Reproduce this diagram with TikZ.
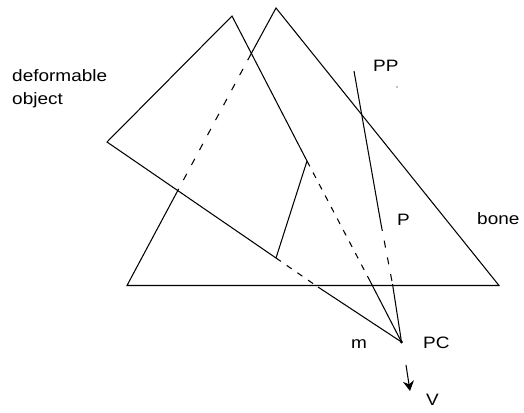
\documentclass[tikz,border=0pt]{standalone}
\usepackage{fontspec}
\setmainfont{Liberation Sans}
\newfontfamily\labfont[FakeStretch=1.15]{Liberation Sans}
\usetikzlibrary{arrows.meta}
\tikzset{
  edge/.style={line width=1.05pt,black},
  dash1/.style={edge,dash pattern=on 6pt off 7pt},
  dash2/.style={edge,dash pattern=on 7pt off 10pt},
  lab/.style={font=\labfont\fontsize{16.5}{20}\selectfont,inner sep=0pt,text=black}
}
\begin{document}
\begin{tikzpicture}[x=1pt,y=-1pt]
\useasboundingbox[fill=white] (0,0) rectangle (524,412);
% deformable object vertices
\coordinate (A) at (232,16);
\coordinate (B) at (107,142);
\coordinate (C) at (276,258);
\coordinate (D) at (307,161);
% bone vertices
\coordinate (T) at (276,8);
\coordinate (L) at (127,285.5);
\coordinate (R) at (499,285.5);
% view rays
\coordinate (PC) at (401.5,342);
\coordinate (PPtop) at (354,71);
\coordinate (X1) at (251,54);
\coordinate (X2) at (177,192);
\coordinate (Cb) at (318,287);
\coordinate (Db) at (370,281);
\coordinate (Pa) at (381,224);
\coordinate (Pb) at (392.5,284);
\coordinate (Va) at (406,365);
\coordinate (Vb) at (410,391);
% object
\draw[edge] (C) -- (B) -- (A) -- (D) -- (C);
% bone
\draw[edge] (X1) -- (T) -- (R) -- (L) -- (X2);
\draw[dash2] (X1) -- (X2);
% rays
\draw[dash1] (C) -- (Cb);
\draw[edge] (Cb) -- (PC);
\draw[dash1] (D) -- (Db);
\draw[edge] (Db) -- (PC);
\draw[edge] (PPtop) -- (Pa);
\draw[dash2] (Pa) -- (Pb);
\draw[edge] (Pb) -- (PC);
\draw[edge,-{Stealth[length=10pt,width=11pt]}] (Va) -- (Vb);
\fill (PC) circle (1.6pt);
% labels
\node[lab,anchor=west] (n1) at (12,76) {deformable};
\node[lab,anchor=west] (n2) at (12,100) {object};
\node[lab,anchor=west] (n3) at (373,66) {PP};
\node[lab,anchor=west] (n4) at (397,220) {P};
\node[lab,anchor=west] (n5) at (477,219) {bone};
\node[lab,anchor=west] (n6) at (351,344) {m};
\node[lab,anchor=west] (n7) at (423,343) {PC};
\node[lab,anchor=west] (n8) at (426,400) {V};
\fill (397,87) circle (0.7pt);
\end{tikzpicture}
\end{document}
